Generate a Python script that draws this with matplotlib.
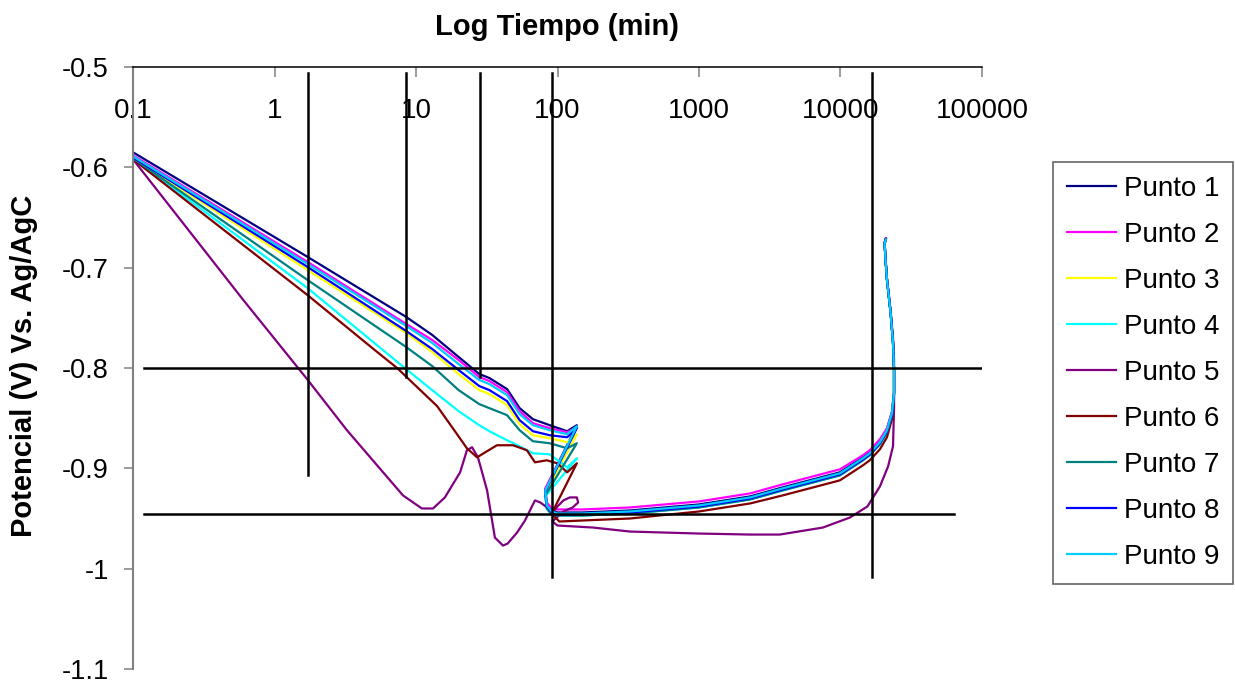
import numpy as np
import matplotlib
matplotlib.use('Agg')
import matplotlib.pyplot as plt

plt.rcParams['font.family'] = ['Liberation Sans', 'DejaVu Sans']

# time (min) for the grouped curves: first run, then second run
t_run1 = [0.1, 1.7, 8.5, 13, 20, 28, 33, 44, 54, 67, 88, 117, 137]
t_run2 = [82, 84, 91, 100, 150, 325, 1000, 2300, 3900, 9900, 14400, 16100,
          19000, 21300, 23100, 23900, 23900, 23500, 22600, 21300, 20800, 20500, 20900]

p1_run1 = [-0.585, -0.689, -0.749, -0.767, -0.789, -0.806, -0.810, -0.821, -0.840, -0.851, -0.857, -0.863, -0.857]
p1_run2 = [-0.921, -0.936, -0.942, -0.944, -0.944, -0.942, -0.936, -0.928, -0.919, -0.904, -0.889, -0.884,
           -0.873, -0.861, -0.844, -0.824, -0.801, -0.774, -0.744, -0.711, -0.691, -0.675, -0.671]

p2_run1 = [-0.588, -0.694, -0.756, -0.772, -0.792, -0.809, -0.813, -0.824, -0.843, -0.855, -0.860, -0.864, -0.859]
p2_run2 = [-0.920, -0.934, -0.940, -0.941, -0.941, -0.939, -0.933, -0.925, -0.916, -0.901, -0.887, -0.882,
           -0.871, -0.860, -0.844, -0.824, -0.801, -0.774, -0.744, -0.711, -0.691, -0.675, -0.671]

p3_run1 = [-0.591, -0.702, -0.765, -0.784, -0.806, -0.822, -0.826, -0.837, -0.856, -0.867, -0.870, -0.874, -0.866]
p3_run2 = [-0.925, -0.939, -0.945, -0.946, -0.946, -0.944, -0.938, -0.930, -0.921, -0.906, -0.891, -0.886,
           -0.875, -0.863, -0.846, -0.825, -0.802, -0.775, -0.745, -0.712, -0.692, -0.676, -0.672]

p4_run1 = [-0.591, -0.720, -0.801, -0.822, -0.843, -0.857, -0.863, -0.872, -0.878, -0.885, -0.886, -0.899, -0.890]
p4_run2 = [-0.928, -0.940, -0.946, -0.947, -0.947, -0.945, -0.939, -0.931, -0.922, -0.907, -0.892, -0.887,
           -0.876, -0.864, -0.847, -0.826, -0.802, -0.775, -0.745, -0.712, -0.692, -0.676, -0.672]

p7_run1 = [-0.591, -0.712, -0.779, -0.798, -0.822, -0.836, -0.840, -0.847, -0.862, -0.873, -0.875, -0.880, -0.875]
p7_run2 = [-0.927, -0.940, -0.946, -0.947, -0.947, -0.945, -0.939, -0.931, -0.922, -0.907, -0.892, -0.887,
           -0.876, -0.864, -0.847, -0.826, -0.802, -0.775, -0.745, -0.712, -0.692, -0.676, -0.672]

p8_run1 = [-0.590, -0.699, -0.763, -0.781, -0.802, -0.818, -0.822, -0.833, -0.852, -0.863, -0.867, -0.869, -0.860]
p8_run2 = [-0.923, -0.938, -0.944, -0.946, -0.946, -0.944, -0.938, -0.930, -0.921, -0.906, -0.891, -0.886,
           -0.875, -0.863, -0.846, -0.825, -0.802, -0.775, -0.745, -0.712, -0.692, -0.676, -0.672]

p9_run1 = [-0.589, -0.696, -0.758, -0.775, -0.796, -0.812, -0.816, -0.827, -0.846, -0.857, -0.862, -0.866, -0.858]
p9_run2 = [-0.922, -0.937, -0.943, -0.945, -0.945, -0.943, -0.937, -0.929, -0.920, -0.905, -0.890, -0.885,
           -0.874, -0.862, -0.845, -0.825, -0.802, -0.775, -0.745, -0.712, -0.692, -0.676, -0.672]

# Punto 5 and Punto 6 have their own time points
p5_t = [0.1, 0.6, 1.72, 3.25, 8.09, 11, 13.2, 16, 20.5, 22.9, 24.9, 27.4, 31.8, 36.1, 41.2, 44.4,
        51.8, 58.9, 69.3, 75.6, 84.4, 91.5, 100, 110, 122, 137, 140, 128, 110, 97, 92, 100,
        178, 325, 1000, 2300, 3730, 7520, 11670, 15500, 19000, 21700, 23500, 23900, 23900,
        23500, 22600, 21300, 20800, 20500, 20900]
p5_v = [-0.592, -0.732, -0.812, -0.862, -0.927, -0.940, -0.940, -0.929, -0.904, -0.882, -0.879, -0.889,
        -0.922, -0.969, -0.977, -0.975, -0.964, -0.952, -0.932, -0.934, -0.939, -0.945, -0.938, -0.932,
        -0.929, -0.929, -0.934, -0.939, -0.943, -0.950, -0.953, -0.957, -0.959, -0.963, -0.965, -0.966,
        -0.966, -0.959, -0.949, -0.938, -0.918, -0.898, -0.878, -0.839, -0.792, -0.770, -0.744, -0.711,
        -0.691, -0.675, -0.671]

p6_t = [0.1, 1.7, 5.1, 7.35, 14.1, 18.2, 22.9, 27, 37.3, 48.5, 60.8, 69.3, 84, 100, 117, 137,
        91, 103, 150, 325, 1000, 2300, 3900, 9900, 14400, 16100, 19000, 21300, 23100, 23900,
        23900, 23500, 22600, 21300, 20800, 20500, 20900]
p6_v = [-0.592, -0.727, -0.782, -0.800, -0.838, -0.860, -0.880, -0.889, -0.877, -0.877, -0.882, -0.894,
        -0.892, -0.895, -0.904, -0.895, -0.945, -0.953, -0.952, -0.950, -0.943, -0.935, -0.927, -0.912,
        -0.897, -0.892, -0.881, -0.869, -0.851, -0.828, -0.802, -0.775, -0.745, -0.712, -0.692, -0.676,
        -0.672]

names = ['Punto 1', 'Punto 2', 'Punto 3', 'Punto 4', 'Punto 5', 'Punto 6', 'Punto 7', 'Punto 8', 'Punto 9']
colors = ['#000080', '#FF00FF', '#FFFF00', '#00FFFF', '#800080', '#800000', '#008080', '#0000FF', '#00CCFF']

# black guide lines
vlines_x = [1.72, 8.45, 28.3, 91.4, 16700]
vlines_top = [-0.506, -0.506, -0.506, -0.506, -0.506]
vlines_bottom = [-0.907, -0.809, -0.809, -1.008, -1.008]
hlines_y = [-0.8, -0.946]
hlines_left = [0.12, 0.12]
hlines_right = [100000, 63000]

x_ticks = [0.1, 1, 10, 100, 1000, 10000, 100000]
x_ticklabels = ['0.1', '1', '10', '100', '1000', '10000', '100000']
y_ticks = [-0.5, -0.6, -0.7, -0.8, -0.9, -1.0, -1.1]
y_ticklabels = ['-0.5', '-0.6', '-0.7', '-0.8', '-0.9', '-1', '-1.1']


fig = plt.figure(figsize=(12.35, 6.86), dpi=100)
ax = fig.add_axes([133 / 1235, 1 - 669 / 686, (982 - 133) / 1235, (669 - 67) / 686])

series = [
    (t_run1 + t_run2, p1_run1 + p1_run2),
    (t_run1 + t_run2, p2_run1 + p2_run2),
    (t_run1 + t_run2, p3_run1 + p3_run2),
    (t_run1 + t_run2, p4_run1 + p4_run2),
    (p5_t, p5_v),
    (p6_t, p6_v),
    (t_run1 + t_run2, p7_run1 + p7_run2),
    (t_run1 + t_run2, p8_run1 + p8_run2),
    (t_run1 + t_run2, p9_run1 + p9_run2),
]
for (t, v), name, c in zip(series, names, colors):
    ax.plot(t, v, color=c, lw=1.6, label=name, zorder=2)

for x, y0, y1 in zip(vlines_x, vlines_top, vlines_bottom):
    ax.plot([x, x], [y0, y1], color='black', lw=1.8, zorder=3)
for y, x0, x1 in zip(hlines_y, hlines_left, hlines_right):
    ax.plot([x0, x1], [y, y], color='black', lw=1.8, zorder=3)

ax.set_xscale('log')
ax.set_xlim(0.1, 100000)
ax.set_ylim(-1.1, -0.5)
ax.set_xticks(x_ticks)
ax.set_xticklabels(x_ticklabels)
ax.xaxis.set_minor_locator(matplotlib.ticker.NullLocator())
ax.set_yticks(y_ticks)
ax.set_yticklabels(y_ticklabels)

# x axis crosses at the top, Excel style
ax.spines['bottom'].set_position(('data', -0.5))
ax.spines['bottom'].set_color('black')
ax.spines['bottom'].set_linewidth(1.1)
ax.spines['top'].set_visible(False)
ax.spines['right'].set_visible(False)
ax.spines['left'].set_color('#808080')
ax.spines['left'].set_linewidth(1.5)
ax.tick_params(axis='x', direction='out', length=7, width=1.1, color='#808080',
               labelsize=20, pad=15.5)
ax.tick_params(axis='y', direction='out', length=6.5, width=1.1, color='#808080',
               labelsize=19.5, pad=11)

fig.text(557 / 1235, 1 - 27 / 686, 'Log Tiempo (min)', fontsize=21, fontweight='bold',
         ha='center', va='center')
fig.text(24 / 1235, 1 - 366 / 686, 'Potencial (V) Vs. Ag/AgC', fontsize=21, fontweight='bold',
         rotation=90, ha='center', va='center')

leg = ax.legend(loc='upper left', bbox_to_anchor=(1053 / 1235, 1 - 162 / 686),
                bbox_transform=fig.transFigure, fontsize=20, frameon=True, fancybox=False,
                borderpad=0.5, handlelength=1.75, handletextpad=0.3, labelspacing=0.72,
                borderaxespad=0)
leg.get_frame().set_edgecolor('#404040')
leg.get_frame().set_linewidth(1.2)

fig.savefig('out.png', dpi=100)
